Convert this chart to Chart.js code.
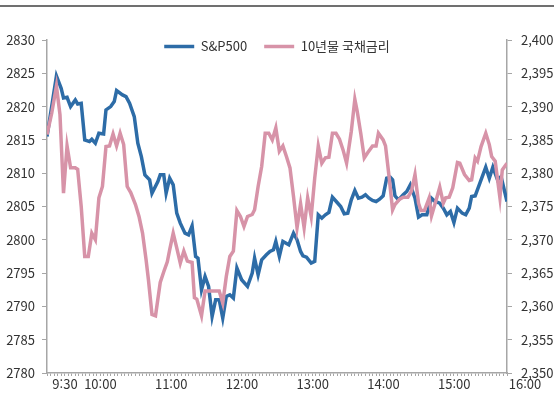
<!DOCTYPE html>
<html lang="ko">
<head>
<meta charset="utf-8">
<title>S&P500 / 10년물 국채금리</title>
<script src="https://cdn.jsdelivr.net/npm/chart.js@4.4.1/dist/chart.umd.min.js"></script>
<style>
  html, body { margin: 0; padding: 0; background: #fff; }
  #wrap { position: relative; width: 554px; height: 417px; }
  #topline { position: absolute; left: 0; top: 5px; width: 554px; height: 2px; background: #707070; }
</style>
</head>
<body>
<div id="wrap">
  <div id="topline"></div>
  <canvas id="chart"></canvas>
</div>
<script>
// intraday data, x = minutes since midnight (9:30 = 570, 16:00 = 960)
const spTime = [570,578,582,584,587,590,594,596,599,602,
  606,608,611,614,618,620,624,627,629,634,
  637,640,644,647,650,653,657,659,664,666,
  669,671,674,677,680,683,687,690,693,696,
  698,701,704,707,710,713,716,719,722,725,
  728,731,735,740,744,746,749,752,756,759,
  762,764,767,770,775,779,782,785,787,790,
  794,797,800,803,806,809,812,816,819,822,
  825,828,831,834,837,840,843,846,849,852,
  855,858,861,863,865,868,872,875,878,882,
  885,888,892,896,899,903,906,909,912,915,
  918,922,925,928,930,933,937,942,945,948,
  952,955,960];
const spValue = [2815.5,2824.6,2822.75,2821.3,2821.4,2820,2821,2820.4,2820.5,2815,
  2814.75,2815.1,2814.5,2816,2815.9,2819.5,2820,2820.75,2822.4,2821.75,
  2821.5,2820.5,2818.5,2814.5,2812.5,2809.75,2809,2807,2808.75,2809.75,
  2809.75,2807,2809.25,2808.25,2804,2802.5,2801,2800.75,2802.1,2797.5,
  2797.25,2792.5,2794.5,2793,2788.5,2791,2791,2788.25,2791.5,2791.75,
  2791.25,2795.75,2794,2793,2795,2797.25,2794.75,2797,2797.75,2798.25,
  2798.5,2799.75,2797.5,2799.75,2799.25,2801,2800,2798.25,2797.6,2797.4,
  2796.5,2796.75,2803.75,2803.25,2803.75,2804.1,2806.4,2805.6,2805,2803.9,
  2804,2806,2807.4,2806.25,2806.4,2806.75,2806.25,2805.9,2805.75,2806.1,
  2806.6,2809.25,2809.4,2809,2806.6,2806,2806.75,2807.25,2808.25,2806.25,
  2803.4,2803.75,2803.75,2806.25,2805.75,2805.5,2804.75,2803.75,2804.25,2802.6,
  2804.75,2804,2803.75,2804.75,2806.5,2806.6,2808.5,2810.9,2809.25,2810.9,
  2809,2809.5,2805.75];

const bondTime = [570,574,578,581,584,587,590,594,596,599,
  602,605,608,611,614,617,620,623,626,629,
  632,635,638,641,645,648,651,654,656,659,
  662,666,669,672,674,677,680,683,686,689,
  693,695,697,701,704,708,712,716,719,722,
  725,728,731,734,737,740,744,746,749,752,
  755,758,761,764,767,770,773,776,779,782,
  785,788,791,794,797,800,803,806,809,812,
  815,818,821,824,828,831,833,836,839,842,
  846,849,851,855,857,860,863,865,869,872,
  876,879,882,885,887,890,894,896,900,903,
  906,908,911,914,918,920,924,928,930,933,
  935,938,942,945,947,950,954,956,960];
const bondValue = [2.3858,2.389,2.3931,2.3888,2.377,2.3841,2.3808,2.3808,2.3806,2.375,
  2.3675,2.3675,2.371,2.37,2.3763,2.378,2.384,2.3841,2.3859,2.3841,
  2.386,2.3843,2.378,2.3771,2.3753,2.3735,2.371,2.367,2.364,2.3588,
  2.3586,2.3636,2.3652,2.3667,2.3685,2.371,2.3688,2.3665,2.3683,2.3668,
  2.3666,2.3613,2.3611,2.3586,2.3623,2.3623,2.3623,2.3623,2.3605,2.3645,
  2.3675,2.3683,2.3744,2.3735,2.372,2.3735,2.3738,2.3745,2.378,2.381,
  2.386,2.386,2.385,2.3868,2.3833,2.3841,2.3825,2.3808,2.3765,2.3718,
  2.3754,2.3718,2.3763,2.3735,2.3793,2.3841,2.3815,2.3823,2.3824,2.386,
  2.386,2.3851,2.3835,2.3815,2.3863,2.3911,2.3893,2.386,2.3823,2.3831,
  2.3841,2.3841,2.386,2.385,2.3841,2.3795,2.3745,2.3753,2.3761,2.3764,
  2.3764,2.3773,2.3798,2.3755,2.3744,2.3744,2.3763,2.3736,2.376,2.3779,
  2.3755,2.3763,2.3764,2.3778,2.3816,2.3815,2.3798,2.3789,2.379,2.3823,
  2.3818,2.384,2.386,2.3843,2.3825,2.3818,2.3763,2.3805,2.3815];

const xTickMinutes = [570, 600, 660, 720, 780, 840, 900, 960];
const xTickLabels = ['9:30', '10:00', '11:00', '12:00', '13:00', '14:00', '15:00', '16:00'];
const minorStep = 3;

const toPoints = (t, v) => t.map((m, i) => ({ x: m, y: v[i] }));

Chart.defaults.font.family = "'Noto Sans CJK KR', 'Noto Sans', sans-serif";
Chart.defaults.font.size = 13;
Chart.defaults.color = '#333';

const axisGray = '#a6a6a6';

// legend sits inside the top of the plot: small layout height, but don't clip its drawing
const legendInside = {
  id: 'legendInside',
  beforeInit(chart) {
    const fit = chart.legend.fit;
    chart.legend.fit = function () {
      fit.call(this);
      this.height = 17;
    };
  },
  afterLayout(chart) {
    chart.legend.bottom += 30;
    chart.legend.height += 30;
  }
};

const chart = document.querySelector('#chart').getContext('2d');

new Chart(chart, {
  type: 'line',
  data: {
    datasets: [
      {
        label: 'S&P500',
        data: toPoints(spTime, spValue),
        yAxisID: 'y',
        borderColor: '#2d6ca7',
        backgroundColor: '#2d6ca7',
        borderWidth: 3.5,
        pointRadius: 0,
        tension: 0,
        order: 1
      },
      {
        label: '10년물 국채금리',
        data: toPoints(bondTime, bondValue),
        yAxisID: 'y1',
        borderColor: '#d793a8',
        backgroundColor: '#d793a8',
        borderWidth: 3.5,
        pointRadius: 0,
        tension: 0,
        order: 0
      }
    ]
  },
  options: {
    responsive: true,
    maintainAspectRatio: false,
    animation: false,
    layout: { padding: { top: 23, left: 0, right: 0, bottom: 0 } },
    plugins: {
      tooltip: { enabled: false },
      legend: {
        position: 'top',
        labels: {
          usePointStyle: true,
          pointStyle: 'line',
          pointStyleWidth: 30,
          boxHeight: 13,
          padding: 17,
          font: { size: 13 },
          color: '#333',
          sort: (a, b) => a.datasetIndex - b.datasetIndex
        }
      }
    },
    scales: {
      x: {
        type: 'linear',
        min: 570,
        max: 960,
        afterBuildTicks: (scale) => {
          const ticks = [];
          for (let m = 570; m <= 960; m += minorStep) ticks.push({ value: m });
          scale.ticks = ticks;
        },
        afterFit: (scale) => { scale.height = 44; },
        border: { color: axisGray, width: 1.5 },
        grid: { drawOnChartArea: false, tickLength: 3, color: axisGray },
        ticks: {
          autoSkip: false,
          maxRotation: 0,
          padding: 0,
          labelOffset: 18,
          callback: (v) => {
            const i = xTickMinutes.indexOf(v);
            return i >= 0 ? xTickLabels[i] : '';
          }
        }
      },
      y: {
        position: 'left',
        min: 2780,
        max: 2830,
        afterFit: (scale) => { scale.width = 47; },
        border: { color: axisGray, width: 1.5 },
        grid: { drawOnChartArea: false, tickLength: 5, color: axisGray },
        ticks: { stepSize: 5, padding: 7, callback: (v) => v.toFixed(0) }
      },
      y1: {
        position: 'right',
        min: 2.35,
        max: 2.4,
        afterFit: (scale) => { scale.width = 47; },
        border: { color: axisGray, width: 1.5 },
        grid: { drawOnChartArea: false, tickLength: 5, color: axisGray },
        ticks: {
          stepSize: 0.005,
          padding: 9,
          callback: (v) => v.toFixed(3).replace('.', ',')
        }
      }
    }
  },
  plugins: [legendInside]
});
</script>
</body>
</html>
